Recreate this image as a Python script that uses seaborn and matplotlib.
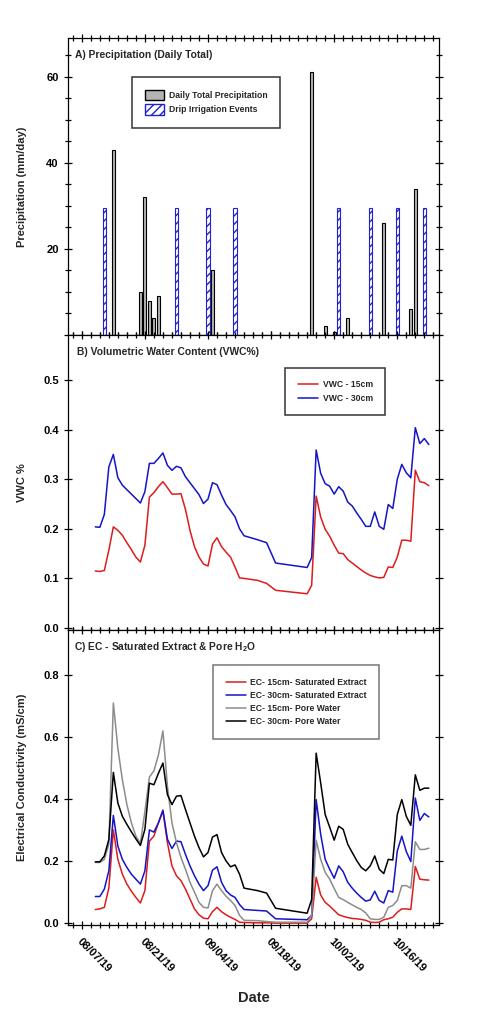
import numpy as np
import pandas as pd
import matplotlib
matplotlib.use("Agg")
import matplotlib.pyplot as plt
import matplotlib.dates as mdates
from matplotlib.ticker import MultipleLocator, FuncFormatter
from matplotlib.patches import Patch
import seaborn as sns

# ---- data (days counted from 08/07/19) ----
START = pd.Timestamp("2019-08-07")

RAIN_DAY = [7, 13, 14, 15, 16, 17, 29, 51, 54, 56, 59, 67, 73, 74]
RAIN_MM = [43, 10, 32, 8, 4, 9, 15, 61, 2, 0.7, 4, 26, 6, 34]

IRR_DAY = [5, 21, 28, 34, 57, 64, 70, 76]
IRR_MM = [29.5] * len(IRR_DAY)

DAY = list(range(3, 37)) + [39, 41, 43] + list(range(50, 78))

VWC_15 = [.115, .114, .116, .157, .204, .197, .187, .172, .158, .143, .133, .167, .264, .273,
          .285, .295, .283, .270, .270, .271, .239, .197, .164, .143, .129, .125, .169, .182,
          .164, .153, .143, .123, .101, .100, .096, .090, .076, .069, .086, .266, .224, .199,
          .185, .167, .151, .150, .138, .131, .124, .117, .111, .106, .103, .101, .102, .123,
          .122, .143, .177, .177, .175, .318, .295, .293, .287]
VWC_30 = [.204, .203, .229, .325, .350, .303, .288, .279, .270, .261, .252, .275, .332, .332,
          .342, .353, .328, .318, .326, .323, .305, .293, .281, .269, .251, .260, .293, .289,
          .268, .249, .237, .224, .200, .186, .178, .172, .131, .122, .142, .359, .312, .291,
          .286, .270, .285, .276, .254, .246, .232, .219, .205, .205, .234, .205, .199, .249,
          .241, .300, .330, .313, .303, .404, .372, .382, .370]

EC_SE_15 = [.044, .046, .051, .113, .301, .206, .158, .126, .103, .083, .065, .105, .265, .281,
            .324, .362, .260, .185, .153, .137, .110, .078, .046, .027, .016, .014, .037, .051,
            .037, .027, .019, .012, .003, .002, .001, .001, .000, .000, .014, .148, .091, .067,
            .055, .041, .027, .022, .018, .015, .014, .012, .009, .003, .002, .003, .011, .014,
            .019, .035, .046, .046, .044, .183, .142, .140, .139]
EC_SE_30 = [.086, .086, .110, .169, .348, .249, .206, .180, .158, .142, .126, .169, .301, .294,
            .324, .365, .271, .241, .265, .263, .222, .185, .153, .126, .105, .121, .171, .182,
            .132, .105, .091, .083, .060, .044, .041, .039, .014, .011, .025, .399, .287, .206,
            .174, .145, .185, .166, .132, .113, .097, .083, .071, .075, .103, .073, .065, .105,
            .100, .233, .281, .231, .199, .404, .332, .354, .343]
EC_PW_15 = [.196, .196, .206, .255, .711, .565, .463, .383, .324, .281, .258, .360, .472, .492,
            .543, .621, .442, .324, .260, .212, .174, .132, .100, .067, .051, .049, .105, .126,
            .105, .087, .073, .057, .025, .009, .008, .005, .003, .003, .025, .268, .206, .164,
            .142, .112, .083, .076, .067, .059, .051, .044, .033, .014, .012, .012, .019, .051,
            .057, .073, .121, .121, .113, .263, .238, .238, .242]
EC_PW_30 = [.198, .198, .217, .270, .487, .388, .345, .319, .295, .272, .251, .303, .452, .447,
            .484, .517, .415, .383, .410, .412, .367, .324, .281, .244, .214, .228, .278, .286,
            .228, .201, .182, .188, .158, .113, .105, .097, .048, .032, .076, .549, .453, .351,
            .310, .268, .313, .303, .255, .228, .202, .180, .169, .185, .217, .174, .160, .206,
            .204, .351, .399, .345, .316, .479, .429, .436, .436]


def to_dates(days):
    return START + pd.to_timedelta(days, unit="D")


def style_axis(ax, d0):
    ax.set_xlim(START - pd.Timedelta(days=3.1), START + pd.Timedelta(days=79.3))
    ax.xaxis.set_major_locator(MultipleLocator(14, offset=d0 % 14))
    ax.xaxis.set_minor_locator(MultipleLocator(2, offset=d0 % 2))
    ax.xaxis.set_major_formatter(mdates.DateFormatter("%m/%d/%y"))
    ax.tick_params(which="both", direction="inout", top=True, right=True,
                   width=0.9, colors="black", labelsize=8)
    ax.tick_params(which="major", length=6)
    ax.tick_params(which="minor", length=4)
    for lab in ax.get_yticklabels():
        lab.set_fontweight("bold")
    for sp in ax.spines.values():
        sp.set_visible(True)
        sp.set_color("black")
        sp.set_linewidth(0.9)


def legend_box(ax, anchor, edge="black", **kw):
    leg = ax.legend(loc="upper left", bbox_to_anchor=anchor, fontsize=6.2, frameon=True,
                    fancybox=False, edgecolor=edge, borderaxespad=0, **kw)
    leg.get_frame().set_linewidth(1.1)
    return leg


def main():
    sns.set_style("ticks")
    plt.rcParams["font.family"] = ["Liberation Sans", "DejaVu Sans"]
    plt.rcParams["font.weight"] = "bold"
    plt.rcParams["mathtext.fontset"] = "custom"
    plt.rcParams["mathtext.bf"] = "Liberation Sans:bold"
    plt.rcParams["hatch.linewidth"] = 1.0

    d0 = mdates.date2num(START)
    dates = to_dates(DAY)

    fig = plt.figure(figsize=(4.88, 10.24), dpi=100)
    axA = fig.add_axes([0.139, 0.6729, 0.761, 0.290])
    axB = fig.add_axes([0.139, 0.3848, 0.761, 0.2881], sharex=axA)
    axC = fig.add_axes([0.139, 0.0967, 0.761, 0.2881], sharex=axA)

    # A) precipitation
    axA.bar(to_dates(IRR_DAY), IRR_MM, width=0.7, facecolor="white",
            edgecolor="#2020d0", hatch="////", linewidth=0.8)
    axA.bar(to_dates(RAIN_DAY), RAIN_MM, width=0.7, facecolor="#b4b4b4",
            edgecolor="black", linewidth=0.8)
    axA.set_ylim(0, 69)
    axA.yaxis.set_major_locator(MultipleLocator(20))
    axA.yaxis.set_minor_locator(MultipleLocator(5))
    axA.yaxis.set_major_formatter(FuncFormatter(lambda v, p: "" if v == 0 else f"{v:.0f}"))
    axA.set_ylabel("Precipitation (mm/day)", fontsize=8, fontweight="bold")
    axA.text(0.019, 0.943, "A) Precipitation (Daily Total)", transform=axA.transAxes,
             fontsize=7.4, fontweight="bold", va="center")
    handles = [Patch(facecolor="#b4b4b4", edgecolor="black", linewidth=1.0,
                     label="Daily Total Precipitation"),
               Patch(facecolor="white", edgecolor="#2020d0", hatch="////", linewidth=1.0,
                     label="Drip Irrigation Events")]
    legend_box(axA, (0.1725, 0.869), handles=handles, borderpad=1.5, handlelength=2.2,
               handleheight=1.5, handletextpad=0.6, labelspacing=0.45)

    # B) VWC
    sns.lineplot(x=dates, y=VWC_15, ax=axB, color="#dd1c1c", lw=1.1, label="VWC - 15cm")
    sns.lineplot(x=dates, y=VWC_30, ax=axB, color="#1414c8", lw=1.1, label="VWC - 30cm")
    axB.set_ylim(-0.004, 0.591)
    axB.yaxis.set_major_locator(MultipleLocator(0.1))
    axB.yaxis.set_major_formatter(FuncFormatter(lambda v, p: f"{v:.1f}"))
    axB.yaxis.set_minor_locator(MultipleLocator(0.1))
    axB.set_ylabel("VWC %", fontsize=8, fontweight="bold")
    axB.text(0.025, 0.942, "B) Volumetric Water Content (VWC%)", transform=axB.transAxes,
             fontsize=7.4, fontweight="bold", va="center")
    legend_box(axB, (0.585, 0.888), borderpad=1.45, handlelength=2.4, handletextpad=0.5,
               labelspacing=0.5)

    # C) EC
    sns.lineplot(x=dates, y=EC_SE_15, ax=axC, color="#dd1c1c", lw=1.1,
                 label="EC- 15cm- Saturated Extract")
    sns.lineplot(x=dates, y=EC_SE_30, ax=axC, color="#1414c8", lw=1.1,
                 label="EC- 30cm- Saturated Extract")
    sns.lineplot(x=dates, y=EC_PW_15, ax=axC, color="#8c8c8c", lw=1.1,
                 label="EC- 15cm- Pore Water")
    sns.lineplot(x=dates, y=EC_PW_30, ax=axC, color="black", lw=1.1,
                 label="EC- 30cm- Pore Water")
    axC.set_ylim(-0.006, 0.947)
    axC.yaxis.set_major_locator(MultipleLocator(0.2))
    axC.yaxis.set_major_formatter(FuncFormatter(lambda v, p: f"{v:.1f}"))
    axC.yaxis.set_minor_locator(MultipleLocator(0.2))
    axC.set_ylabel("Electrical Conductivity (mS/cm)", fontsize=8, fontweight="bold")
    axC.text(0.016, 0.942, r"C) EC - Saturated Extract & Pore H$_\mathbf{2}$O",
             transform=axC.transAxes, fontsize=7.4, fontweight="bold", va="center")
    legend_box(axC, (0.391, 0.881), edge="#555555", borderpad=1.45, handlelength=2.4,
               handletextpad=0.5, labelspacing=0.5)
    axC.set_xlabel("Date", fontsize=10.5, fontweight="bold")

    for ax in (axA, axB, axC):
        style_axis(ax, d0)
        ax.yaxis.set_label_coords(-0.11, 0.5)
    for ax in (axA, axB):
        ax.tick_params(labelbottom=False)
        ax.set_xlabel("")

    for lab in axC.get_xticklabels():
        lab.set_rotation(-45)
        lab.set_ha("left")
        lab.set_va("top")
        lab.set_rotation_mode("anchor")
        lab.set_fontweight("bold")
    axC.tick_params(axis="x", pad=5)
    axC.xaxis.set_label_coords(0.5, -0.225)

    fig.savefig("out.png", dpi=100)
    plt.close(fig)


if __name__ == "__main__":
    main()
